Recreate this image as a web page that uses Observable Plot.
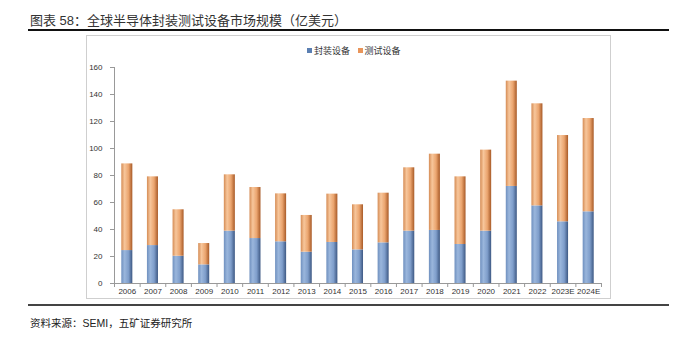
<!DOCTYPE html>
<html><head><meta charset="utf-8">
<script src="https://cdn.jsdelivr.net/npm/d3@7"></script>
<script src="https://cdn.jsdelivr.net/npm/@observablehq/plot@0.6"></script>
<style>
body{margin:0;background:#fff;width:685px;height:337px;position:relative;overflow:hidden;font-family:"Liberation Sans",Arial,"Noto Sans CJK SC",sans-serif;}
#title{position:absolute;left:30px;top:10px;font-size:13px;color:#333;white-space:nowrap;}
#rule1{position:absolute;left:28px;top:29px;width:641px;height:2px;background:#111;}
#frame{position:absolute;left:86px;top:35px;width:523px;height:262px;border:1px solid #cfcfcf;}
#chart{position:absolute;left:0;top:31px;}
#legend{position:absolute;left:307px;top:44px;font-size:9px;color:#333;white-space:nowrap;}
#legend span.sw{display:inline-block;width:5px;height:5px;margin-right:2px;vertical-align:1px;}
#rule2{position:absolute;left:28px;top:304px;width:641px;height:1.5px;background:#444;}
#caption{position:absolute;left:30px;top:315px;font-size:10.5px;color:#222;white-space:nowrap;}
</style></head>
<body>
<div id="title">图表 58：全球半导体封装测试设备市场规模（亿美元）</div>
<div id="rule1"></div>
<div id="frame"></div>
<div id="chart"></div>
<div id="legend"><span class="sw" style="background:#5b7fb2"></span>封装设备&nbsp;&nbsp;&nbsp;<span class="sw" style="background:#e9955a"></span>测试设备</div>
<div id="rule2"></div>
<div id="caption">资料来源：SEMI，五矿证券研究所</div>
<script>
const years = ["2006","2007","2008","2009","2010","2011","2012","2013","2014","2015","2016","2017","2018","2019","2020","2021","2022","2023E","2024E"];
const packaging = [24.4,28.1,20.2,13.8,38.8,33.3,30.9,23.2,30.4,24.9,30.1,38.8,39.3,28.9,38.8,71.9,57.5,45.7,53.1];
const totals = [88.6,79.0,54.6,29.6,80.5,71.1,66.4,50.4,66.2,58.3,66.9,85.7,95.8,79.0,98.8,149.9,133.1,109.6,122.2];
const testing = totals.map((t,i) => +(t - packaging[i]).toFixed(1));
const seriesNames = ["封装设备","测试设备"];
const yTicks = [0,20,40,60,80,100,120,140,160];

const rows = [];
years.forEach((y,i) => {
  rows.push({year:y, series:seriesNames[0], value:packaging[i]});
  rows.push({year:y, series:seriesNames[1], value:testing[i]});
});

const W = 685, H = 275, ml = 114, mr = 84, mt = 36, mb = 23;
const step = (W - ml - mr) / years.length;

const plot = Plot.plot({
  width: W, height: H,
  marginLeft: ml, marginRight: mr, marginTop: mt, marginBottom: mb,
  style: {fontFamily: '"Liberation Sans", Arial, sans-serif', fontSize: "8px", color: "#333", background: "transparent"},
  x: {domain: years, paddingInner: 0.57, paddingOuter: 0.285, round: false, label: null},
  y: {domain: [0,160], ticks: yTicks, label: null},
  color: {domain: seriesNames, range: ["url(#gBlue)", "url(#gOrange)"]},
  marks: [
    Plot.barY(rows, {x: "year", y: "value", fill: "series", order: seriesNames}),
    Plot.axisY({ticks: yTicks, tickSize: 4, tickPadding: 8, stroke: "#999", fill: "#333", label: null}),
    Plot.ruleX(years.slice(0,1), {x: d => d, dx: -step/2, stroke: "#999"}),
    Plot.ruleY([0], {stroke: "#999"}),
    Plot.ruleX(years, {x: d => d, dx: -step/2, y1: 0, y2: 0, insetBottom: -4, stroke: "#999"}),
    Plot.ruleX(years.slice(-1), {x: d => d, dx: step/2, y1: 0, y2: 0, insetBottom: -4, stroke: "#999"}),
    Plot.axisX({tickSize: 0, tickPadding: 5, fill: "#333", label: null})
  ]
});

// gradient defs for the Excel-like shaded bars
const ns = "http://www.w3.org/2000/svg";
const defs = document.createElementNS(ns, "defs");
function grad(id, stops){
  const g = document.createElementNS(ns, "linearGradient");
  g.setAttribute("id", id); g.setAttribute("x1","0"); g.setAttribute("x2","1"); g.setAttribute("y1","0"); g.setAttribute("y2","0");
  stops.forEach(([o,c]) => { const s = document.createElementNS(ns,"stop"); s.setAttribute("offset",o); s.setAttribute("stop-color",c); g.appendChild(s); });
  defs.appendChild(g);
}
grad("gBlue", [["0%","#6f90bf"],["30%","#9ab6dc"],["65%","#7f9ecb"],["100%","#3d5883"]]);
grad("gOrange", [["0%","#d58c55"],["30%","#f7c69b"],["65%","#eba56f"],["100%","#a85a27"]]);
plot.insertBefore(defs, plot.firstChild);
document.getElementById("chart").appendChild(plot);
</script>
</body></html>
